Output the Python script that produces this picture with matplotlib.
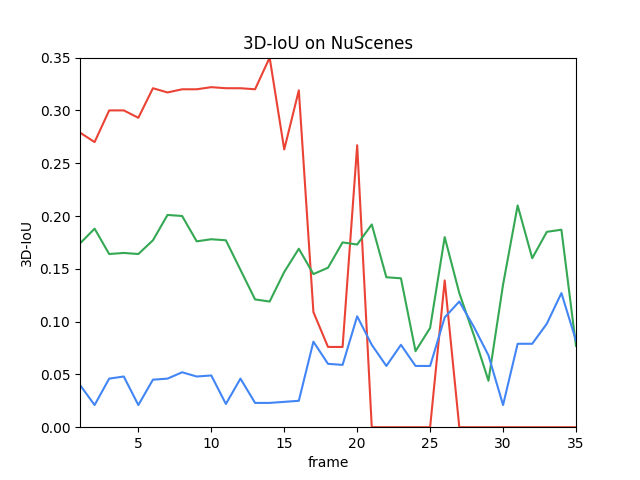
import matplotlib
matplotlib.use("Agg")
import matplotlib.pyplot as plt

frames = list(range(1, 36))
red_iou = [0.279, 0.270, 0.300, 0.300, 0.293, 0.321, 0.317, 0.320, 0.320, 0.322,
           0.321, 0.321, 0.320, 0.350, 0.263, 0.319, 0.109, 0.076, 0.076, 0.267,
           0.0, 0.0, 0.0, 0.0, 0.0, 0.139, 0.0, 0.0, 0.0, 0.0,
           0.0, 0.0, 0.0, 0.0, 0.0]
green_iou = [0.174, 0.188, 0.164, 0.165, 0.164, 0.177, 0.201, 0.200, 0.176, 0.178,
             0.177, 0.149, 0.121, 0.119, 0.147, 0.169, 0.145, 0.151, 0.175, 0.173,
             0.192, 0.142, 0.141, 0.072, 0.094, 0.180, 0.127, 0.087, 0.044, 0.135,
             0.210, 0.160, 0.185, 0.187, 0.077]
blue_iou = [0.040, 0.021, 0.046, 0.048, 0.021, 0.045, 0.046, 0.052, 0.048, 0.049,
            0.022, 0.046, 0.023, 0.023, 0.024, 0.025, 0.081, 0.060, 0.059, 0.105,
            0.078, 0.058, 0.078, 0.058, 0.058, 0.104, 0.119, 0.095, 0.068, 0.021,
            0.079, 0.079, 0.098, 0.127, 0.082]

fig, ax = plt.subplots(figsize=(6.4, 4.8), dpi=100)
ax.plot(frames, red_iou, color="#EA4335")
ax.plot(frames, green_iou, color="#34A853")
ax.plot(frames, blue_iou, color="#4285F4")
ax.set_xlim(1, 35)
ax.set_ylim(0, 0.35)
ax.set_xticks([5, 10, 15, 20, 25, 30, 35])
ax.set_xlabel("frame")
ax.set_ylabel("3D-IoU")
ax.set_title("3D-IoU on NuScenes")
fig.savefig("out.png")
